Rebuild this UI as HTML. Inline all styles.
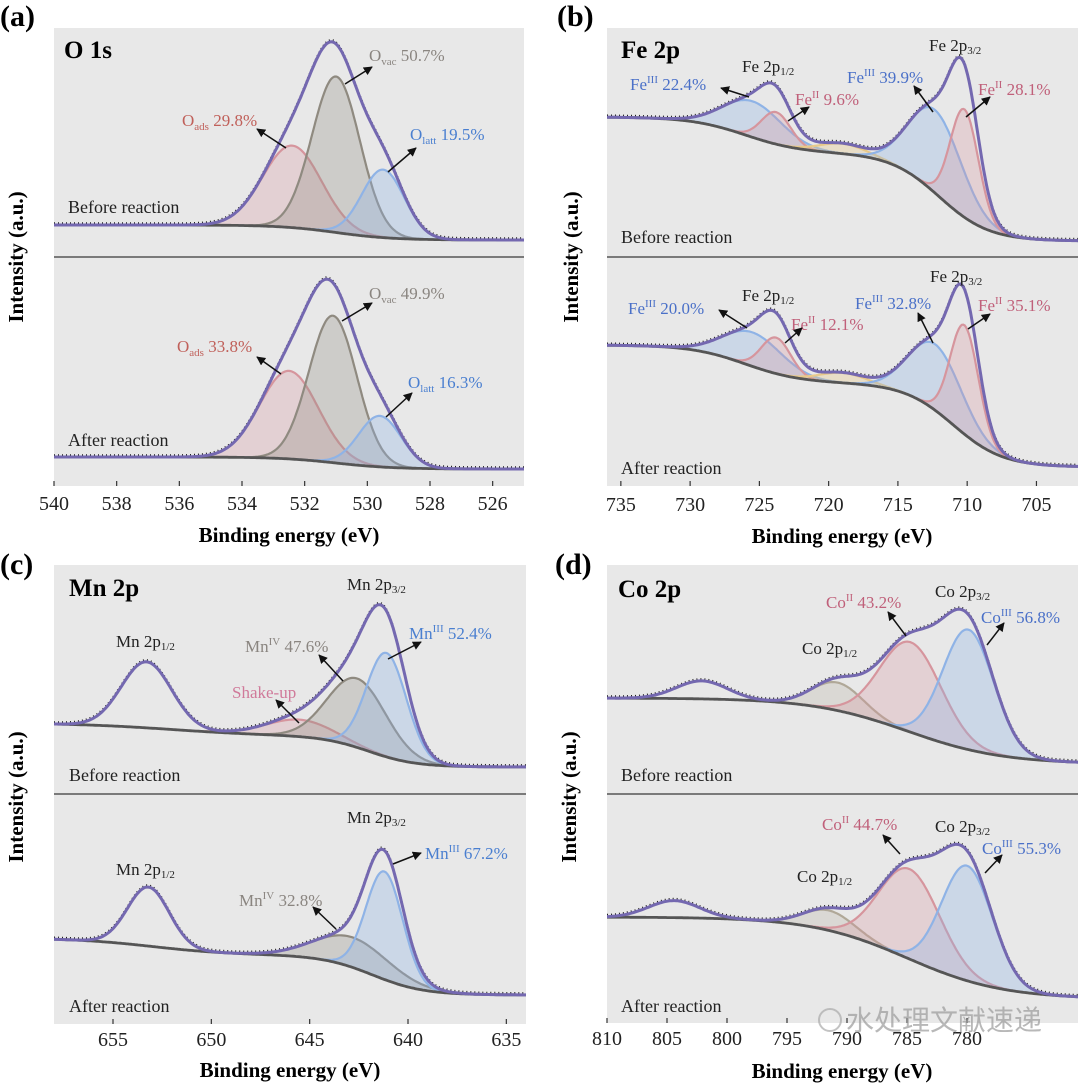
<!DOCTYPE html>
<html><head><meta charset="utf-8"><style>
html,body{margin:0;padding:0;background:#fff;}
svg{display:block;font-family:"Liberation Serif",serif;}
</style></head><body>
<svg id="fig" width="1080" height="1091" viewBox="0 0 1080 1091" xmlns="http://www.w3.org/2000/svg">
<defs>
<clipPath id="clipA"><rect x="54" y="28" width="470" height="458"/></clipPath>
<clipPath id="clipB"><rect x="607" y="28" width="471" height="458"/></clipPath>
<clipPath id="clipC"><rect x="54" y="565" width="472" height="459"/></clipPath>
<clipPath id="clipD"><rect x="607" y="565" width="471" height="458"/></clipPath>
<marker id="ah" viewBox="0 0 10 10" refX="9" refY="5" markerWidth="6" markerHeight="6" orient="auto"><path d="M0,0 L10,5 L0,10 z" fill="#111"/></marker>
</defs>
<rect x="54" y="28" width="470" height="458" fill="#e8e8e8"/>
<rect x="607" y="28" width="471" height="458" fill="#e8e8e8"/>
<rect x="54" y="565" width="472" height="459" fill="#e8e8e8"/>
<rect x="607" y="565" width="471" height="458" fill="#e8e8e8"/>
<g id="curves"></g>
<line x1="54" y1="257" x2="524" y2="257" stroke="#7a7a7a" stroke-width="2"/>
<line x1="607" y1="257" x2="1078" y2="257" stroke="#7a7a7a" stroke-width="2"/>
<line x1="54" y1="794" x2="526" y2="794" stroke="#7a7a7a" stroke-width="2"/>
<line x1="607" y1="794" x2="1078" y2="794" stroke="#7a7a7a" stroke-width="2"/>
<g id="ticks"></g>

<text x="0" y="26" font-size="30" font-weight="bold">(a)</text>
<text x="557" y="26" font-size="30" font-weight="bold">(b)</text>
<text x="0" y="574" font-size="30" font-weight="bold">(c)</text>
<text x="555" y="574" font-size="30" font-weight="bold">(d)</text>

<text x="289" y="542" font-size="21" font-weight="bold" text-anchor="middle">Binding energy (eV)</text>
<text x="842" y="543" font-size="21" font-weight="bold" text-anchor="middle">Binding energy (eV)</text>
<text x="290" y="1077" font-size="21" font-weight="bold" text-anchor="middle">Binding energy (eV)</text>
<text x="842" y="1078" font-size="21" font-weight="bold" text-anchor="middle">Binding energy (eV)</text>
<text transform="translate(23,257) rotate(-90)" font-size="21" font-weight="bold" text-anchor="middle">Intensity (a.u.)</text>
<text transform="translate(578,257) rotate(-90)" font-size="21" font-weight="bold" text-anchor="middle">Intensity (a.u.)</text>
<text transform="translate(23,797) rotate(-90)" font-size="21" font-weight="bold" text-anchor="middle">Intensity (a.u.)</text>
<text transform="translate(576,797) rotate(-90)" font-size="21" font-weight="bold" text-anchor="middle">Intensity (a.u.)</text>

<text x="64" y="58" font-size="25" font-weight="bold">O 1s</text>
<text x="621" y="58" font-size="25" font-weight="bold">Fe 2p</text>
<text x="69" y="596" font-size="25" font-weight="bold">Mn 2p</text>
<text x="618" y="597" font-size="25" font-weight="bold">Co 2p</text>

<g font-size="18" fill="#222">
<text x="68" y="213">Before reaction</text>
<text x="68" y="446">After reaction</text>
<text x="621" y="243">Before reaction</text>
<text x="621" y="474">After reaction</text>
<text x="69" y="781">Before reaction</text>
<text x="69" y="1012">After reaction</text>
<text x="621" y="781">Before reaction</text>
<text x="621" y="1012">After reaction</text>
</g>

<g font-size="17">
<text x="369" y="61" fill="#8a8580">O<tspan dy="4" font-size="11">vac</tspan><tspan dy="-4"> 50.7%</tspan></text>
<text x="182" y="126" fill="#c0605a">O<tspan dy="4" font-size="11">ads</tspan><tspan dy="-4"> 29.8%</tspan></text>
<text x="410" y="140" fill="#4a7fd0">O<tspan dy="4" font-size="11">latt</tspan><tspan dy="-4"> 19.5%</tspan></text>
<text x="369" y="299" fill="#8a8580">O<tspan dy="4" font-size="11">vac</tspan><tspan dy="-4"> 49.9%</tspan></text>
<text x="177" y="352" fill="#c0605a">O<tspan dy="4" font-size="11">ads</tspan><tspan dy="-4"> 33.8%</tspan></text>
<text x="408" y="388" fill="#4a7fd0">O<tspan dy="4" font-size="11">latt</tspan><tspan dy="-4"> 16.3%</tspan></text>

<text x="742" y="72" fill="#222">Fe 2p<tspan dy="3" font-size="11">1/2</tspan></text>
<text x="630" y="90" fill="#4a70c8">Fe<tspan dy="-7" font-size="11">III</tspan><tspan dy="7"> 22.4%</tspan></text>
<text x="795" y="105" fill="#c0607a">Fe<tspan dy="-7" font-size="11">II</tspan><tspan dy="7"> 9.6%</tspan></text>
<text x="929" y="51" fill="#222">Fe 2p<tspan dy="3" font-size="11">3/2</tspan></text>
<text x="847" y="83" fill="#4a70c8">Fe<tspan dy="-7" font-size="11">III</tspan><tspan dy="7"> 39.9%</tspan></text>
<text x="978" y="95" fill="#c0607a">Fe<tspan dy="-7" font-size="11">II</tspan><tspan dy="7"> 28.1%</tspan></text>
<text x="628" y="314" fill="#4a70c8">Fe<tspan dy="-7" font-size="11">III</tspan><tspan dy="7"> 20.0%</tspan></text>
<text x="742" y="301" fill="#222">Fe 2p<tspan dy="3" font-size="11">1/2</tspan></text>
<text x="791" y="330" fill="#c0607a">Fe<tspan dy="-7" font-size="11">II</tspan><tspan dy="7"> 12.1%</tspan></text>
<text x="855" y="309" fill="#4a70c8">Fe<tspan dy="-7" font-size="11">III</tspan><tspan dy="7"> 32.8%</tspan></text>
<text x="930" y="282" fill="#222">Fe 2p<tspan dy="3" font-size="11">3/2</tspan></text>
<text x="978" y="311" fill="#c0607a">Fe<tspan dy="-7" font-size="11">II</tspan><tspan dy="7"> 35.1%</tspan></text>

<text x="347" y="590" fill="#222">Mn 2p<tspan dy="3" font-size="11">3/2</tspan></text>
<text x="409" y="639" fill="#4a7fd0">Mn<tspan dy="-7" font-size="11">III</tspan><tspan dy="7"> 52.4%</tspan></text>
<text x="245" y="652" fill="#8a8580">Mn<tspan dy="-7" font-size="11">IV</tspan><tspan dy="7"> 47.6%</tspan></text>
<text x="116" y="647" fill="#222">Mn 2p<tspan dy="3" font-size="11">1/2</tspan></text>
<text x="232" y="698" fill="#d07a9a">Shake-up</text>
<text x="347" y="823" fill="#222">Mn 2p<tspan dy="3" font-size="11">3/2</tspan></text>
<text x="116" y="875" fill="#222">Mn 2p<tspan dy="3" font-size="11">1/2</tspan></text>
<text x="239" y="906" fill="#8a8580">Mn<tspan dy="-7" font-size="11">IV</tspan><tspan dy="7"> 32.8%</tspan></text>
<text x="425" y="859" fill="#4a7fd0">Mn<tspan dy="-7" font-size="11">III</tspan><tspan dy="7"> 67.2%</tspan></text>

<text x="826" y="608" fill="#c0607a">Co<tspan dy="-7" font-size="11">II</tspan><tspan dy="7"> 43.2%</tspan></text>
<text x="935" y="597" fill="#222">Co 2p<tspan dy="3" font-size="11">3/2</tspan></text>
<text x="981" y="623" fill="#4a70c8">Co<tspan dy="-7" font-size="11">III</tspan><tspan dy="7"> 56.8%</tspan></text>
<text x="802" y="654" fill="#222">Co 2p<tspan dy="3" font-size="11">1/2</tspan></text>
<text x="822" y="830" fill="#c0607a">Co<tspan dy="-7" font-size="11">II</tspan><tspan dy="7"> 44.7%</tspan></text>
<text x="935" y="832" fill="#222">Co 2p<tspan dy="3" font-size="11">3/2</tspan></text>
<text x="982" y="854" fill="#4a70c8">Co<tspan dy="-7" font-size="11">III</tspan><tspan dy="7"> 55.3%</tspan></text>
<text x="797" y="882" fill="#222">Co 2p<tspan dy="3" font-size="11">1/2</tspan></text>
</g>

<g stroke="#111" stroke-width="1.5" marker-end="url(#ah)">
<line x1="345" y1="84" x2="372" y2="67"/>
<line x1="286" y1="148" x2="257" y2="129"/>
<line x1="388" y1="172" x2="416" y2="148"/>
<line x1="342" y1="321" x2="372" y2="303"/>
<line x1="281" y1="374" x2="257" y2="357"/>
<line x1="386" y1="417" x2="412" y2="393"/>
<line x1="749" y1="97" x2="721" y2="88"/>
<line x1="788" y1="121" x2="809" y2="107"/>
<line x1="933" y1="112" x2="914" y2="86"/>
<line x1="966" y1="117" x2="990" y2="97"/>
<line x1="747" y1="328" x2="719" y2="310"/>
<line x1="785" y1="343" x2="802" y2="328"/>
<line x1="933" y1="343" x2="918" y2="313"/>
<line x1="968" y1="329" x2="990" y2="314"/>
<line x1="388" y1="659" x2="421" y2="642"/>
<line x1="343" y1="681" x2="319" y2="655"/>
<line x1="299" y1="723" x2="276" y2="700"/>
<line x1="393" y1="864" x2="421" y2="853"/>
<line x1="336" y1="929" x2="313" y2="907"/>
<line x1="906" y1="636" x2="888" y2="612"/>
<line x1="987" y1="645" x2="1004" y2="623"/>
<line x1="900" y1="854" x2="883" y2="835"/>
<line x1="985" y1="873" x2="1002" y2="855"/>
</g>
<circle cx="830" cy="1020" r="11" fill="none" stroke="#aaa" stroke-width="2" stroke-opacity="0.7"/>
<text x="846" y="1030" font-size="28" fill="#9a9a9a" fill-opacity="0.7" font-family="'Liberation Sans','Noto Sans CJK SC',sans-serif">水处理文献速递</text>
</svg>
<script>
const aTicks = [540,538,536,534,532,530,528,526];
const bTicks = [735,730,725,720,715,710,705];
const cTicks = [655,650,645,640,635];
const dTicks = [810,805,800,795,790,785,780];

const aPeakCenters = [532.4, 531.0, 529.5];
const aAfterCenters = [532.5, 531.1, 529.6];
const aBeforeHeights = [82, 156, 68];
const aAfterHeights = [88, 147, 51];
const aWidths = [2.2, 1.8, 1.6];
const aStepCenters = [531.0];
const aStepWidths = [0.9];
const aBeforeStep = [15];
const aAfterStep = [12];
const aBeforeBg = 17;
const aAfterBg = 17;

const bPeakCenters = [725.5, 723.8, 719.0, 712.3, 710.2];
const bBeforeHeights = [36, 32, 10, 83, 108];
const bAfterHeights = [34, 36, 10, 66, 109];
const bWidths = [5.0, 2.5, 4.0, 4.5, 2.4];
const bBeforeStepCenters = [726, 712];
const bAfterStepCenters = [726, 711];
const bStepWidths = [2.0, 1.8];
const bBeforeStep = [36, 88];
const bAfterStep = [38, 84];
const bBeforeBg = 16;
const bAfterBg = 19;

const cPeakCenters = [653.3, 645.5, 642.6, 641.1];
const cAfterCenters = [653.2, 645.5, 642.8, 641.2];
const cBeforeHeights = [66, 17, 69, 104];
const cAfterHeights = [59, 0, 30, 108];
const cBeforeWidths = [3.0, 4.0, 3.5, 2.4];
const cAfterWidths = [2.5, 4.0, 4.5, 2.2];
const cStepCenters = [652, 642];
const cAfterStepCenters = [653, 641.8];
const cStepWidths = [2.5, 1.2];
const cAfterStepWidths = [2, 1.3];
const cBeforeStep = [13, 31];
const cAfterStep = [17, 40];
const cBeforeBg = 27;
const cAfterBg = 29;

const dBeforeCenters = [802.1, 790.8, 784.7, 779.9];
const dAfterCenters = [804.4, 791.5, 784.8, 780.0];
const dBeforeHeights = [18, 28, 90, 120];
const dAfterHeights = [17, 20, 90, 115];
const dWidths = [5, 5, 6, 5];
const dStepCenters = [785];
const dStepWidths = [4];
const dBeforeStep = [66];
const dAfterStep = [82];
const dBeforeBg = 30;
const dAfterBg = 24;

const STY = {
  pink:{s:'#d6959d',f:'rgba(214,149,157,0.28)'},
  gray:{s:'#8f8a80',f:'rgba(143,138,128,0.30)'},
  blue:{s:'#8fb3e6',f:'rgba(143,179,230,0.32)'},
  yellow:{s:'#e8c98a',f:'rgba(232,201,138,0.35)'},
  olive:{s:'#b0a898',f:'rgba(176,168,152,0.25)'},
  none:null
};
const NS='http://www.w3.org/2000/svg';
const curves=document.getElementById('curves');
const ticksG=document.getElementById('ticks');

function sig(z){return 1/(1+Math.exp(-z));}
function mk(tag,attrs,parent){const e=document.createElementNS(NS,tag);for(const k in attrs)e.setAttribute(k,attrs[k]);parent.appendChild(e);return e;}
function axisX(P){return E=>P.x0+(P.eL-E)/(P.eL-P.eR)*(P.x1-P.x0);}

function drawSub(P,name,yRef,stC,stW,stH,bgR,pkC,pkH,pkW,cols){
  const xs=axisX(P);
  const g=mk('g',{'clip-path':'url(#'+P.clip+')'},curves);
  
  
  const base=E=>{let v=bgR;for(let i=0;i<stC.length;i++)v+=stH[i]*sig((E-stC[i])/stW[i]);return v;};
  const comp=(E,i)=>pkH[i]*Math.exp(-4*Math.LN2*Math.pow((E-pkC[i])/pkW[i],2));
  const N=320,Es=[];
  for(let k=0;k<=N;k++)Es.push(P.eL+(P.eR-P.eL)*k/N);
  const Y=v=>yRef-v;
  for(let i=0;i<pkC.length;i++){
    const st=STY[cols[i]];if(!st||pkH[i]<=0)continue;
    let top='',bot='';
    Es.forEach((E,k)=>{top+=(k?'L':'M')+xs(E).toFixed(1)+','+Y(base(E)+comp(E,i)).toFixed(1);});
    for(let k=N;k>=0;k--){bot+='L'+xs(Es[k]).toFixed(1)+','+Y(base(Es[k])).toFixed(1);}
    const f=mk('path',{d:top+bot+'Z',fill:st.f,stroke:'none'},g);
    
    
    const l=mk('path',{d:top,fill:'none',stroke:st.s,'stroke-width':2.2},g);
    
    
  }
  let bd='',ed='';
  Es.forEach((E,k)=>{
    const b=base(E);let s=b;for(let i=0;i<pkC.length;i++)s+=comp(E,i);
    bd+=(k?'L':'M')+xs(E).toFixed(1)+','+Y(b).toFixed(1);
    ed+=(k?'L':'M')+xs(E).toFixed(1)+','+Y(s).toFixed(1);
  });
  const bl=mk('path',{d:bd,fill:'none',stroke:'#555','stroke-width':2.8},g);
  
  
  const dots=mk('path',{d:ed,fill:'none',stroke:'#222','stroke-width':1.6,'stroke-dasharray':'1 3',transform:'translate(0,-2)'},g);
  
  
  const en=mk('path',{d:ed,fill:'none',stroke:'#7468b0','stroke-width':3},g);
  
  
}

function drawTicks(P,name,ticks,labelY){
  const xs=axisX(P);
  ticks.forEach(t=>{
    const x=xs(t);
    const l=mk('line',{x1:x,y1:P.yb,x2:x,y2:P.yb-5,stroke:'#333','stroke-width':1.2},ticksG);
    
    
    const tx=mk('text',{x:x,y:labelY,'font-size':20,'text-anchor':'middle',fill:'#222'},ticksG);
    tx.textContent=t;
    
    
  });
}

const PA={x0:54,x1:524,eL:540.0,eR:525.0,yb:486,clip:'clipA'};
const PB={x0:607,x1:1078,eL:736.0,eR:702.0,yb:486,clip:'clipB'};
const PC={x0:54,x1:526,eL:658.0,eR:634.0,yb:1024,clip:'clipC'};
const PD={x0:607,x1:1078,eL:810.0,eR:770.75,yb:1023,clip:'clipD'};

drawSub(PA,'o1s-before',257,aStepCenters,aStepWidths,aBeforeStep,aBeforeBg,aPeakCenters,aBeforeHeights,aWidths,['pink','gray','blue']);
drawSub(PA,'o1s-after',486,aStepCenters,aStepWidths,aAfterStep,aAfterBg,aAfterCenters,aAfterHeights,aWidths,['pink','gray','blue']);
drawSub(PB,'fe2p-before',257,bBeforeStepCenters,bStepWidths,bBeforeStep,bBeforeBg,bPeakCenters,bBeforeHeights,bWidths,['blue','pink','yellow','blue','pink']);
drawSub(PB,'fe2p-after',486,bAfterStepCenters,bStepWidths,bAfterStep,bAfterBg,bPeakCenters,bAfterHeights,bWidths,['blue','pink','yellow','blue','pink']);
drawSub(PC,'mn2p-before',794,cStepCenters,cStepWidths,cBeforeStep,cBeforeBg,cPeakCenters,cBeforeHeights,cBeforeWidths,['none','pink','gray','blue']);
drawSub(PC,'mn2p-after',1024,cAfterStepCenters,cAfterStepWidths,cAfterStep,cAfterBg,cAfterCenters,cAfterHeights,cAfterWidths,['none','pink','gray','blue']);
drawSub(PD,'co2p-before',794,dStepCenters,dStepWidths,dBeforeStep,dBeforeBg,dBeforeCenters,dBeforeHeights,dWidths,['none','olive','pink','blue']);
drawSub(PD,'co2p-after',1023,dStepCenters,dStepWidths,dAfterStep,dAfterBg,dAfterCenters,dAfterHeights,dWidths,['none','olive','pink','blue']);

drawTicks(PA,'panel-a-x',aTicks,510);
drawTicks(PB,'panel-b-x',bTicks,511);
drawTicks(PC,'panel-c-x',cTicks,1046);
drawTicks(PD,'panel-d-x',dTicks,1045);
</script>
</body></html>
